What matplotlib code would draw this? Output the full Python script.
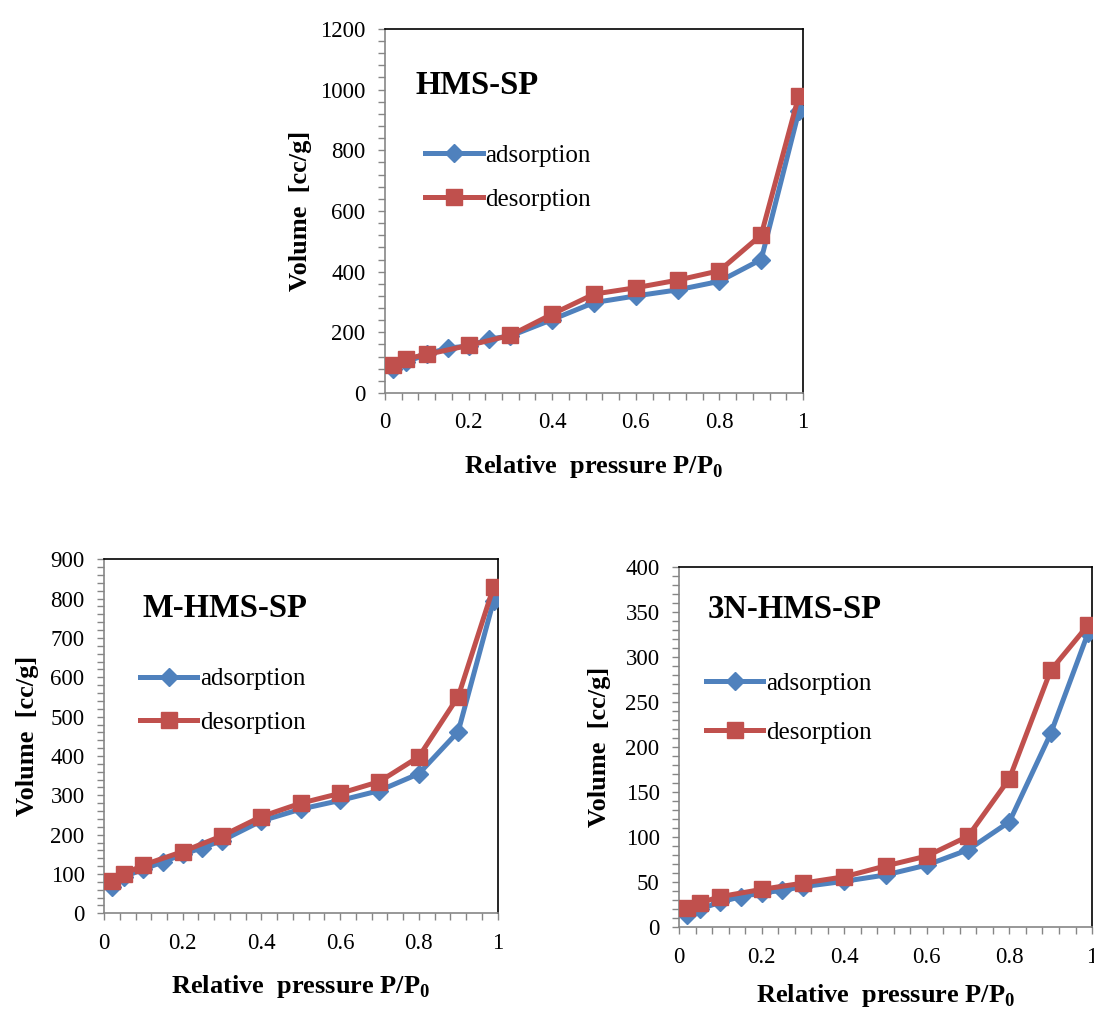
import matplotlib
matplotlib.use("Agg")
import matplotlib.pyplot as plt
from matplotlib.ticker import MultipleLocator, FuncFormatter

plt.rcParams["font.family"] = ["Liberation Serif", "DejaVu Serif"]
plt.rcParams["mathtext.fontset"] = "custom"
plt.rcParams["mathtext.rm"] = "Liberation Serif"
plt.rcParams["mathtext.bf"] = "Liberation Serif:bold"

# N2 isotherm points, relative pressure P/P0
ads_p = [0.02, 0.05, 0.1, 0.15, 0.2, 0.25, 0.3, 0.4, 0.5, 0.6, 0.7, 0.8, 0.9, 0.99]
des_p = [0.02, 0.05, 0.1, 0.2, 0.3, 0.4, 0.5, 0.6, 0.7, 0.8, 0.9, 0.99]

# HMS-SP volumes (cc/g)
hms_ads = [80, 102, 128, 148, 155, 178, 188, 242, 298, 320, 340, 368, 440, 928]
hms_des = [91, 113, 127, 157, 190, 260, 326, 347, 372, 403, 521, 980]

# M-HMS-SP volumes (cc/g)
mhms_ads = [68, 93, 112, 131, 150, 167, 185, 235, 265, 287, 312, 355, 462, 795]
mhms_des = [81, 99, 123, 157, 197, 246, 280, 305, 335, 398, 551, 830]

# 3N-HMS-SP volumes (cc/g)
n3_ads = [14, 20, 28, 34, 38, 41, 45, 51, 58, 69, 86, 117, 215, 326]
n3_des = [21, 27, 34, 42, 49, 56, 68, 79, 101, 165, 285, 335]

BLUE = "#4F81BD"
RED = "#C0504D"


def fmt_x(v, pos):
    return "%g" % round(v, 2)


def draw(ax, ads, des, name, ymax, ystep, title_xy, leg_xy,
         ylabelpad, xlabelpad=14, fs=16.5, legspace=0.85):
    ax.plot(ads_p, ads, color=BLUE, lw=3.6, marker="D", ms=9,
            label="adsorption", zorder=3)
    ax.plot(des_p, des, color=RED, lw=3.6, marker="s", ms=12,
            label="desorption", zorder=4)
    ax.set_xlim(0, 1)
    ax.set_ylim(0, ymax)
    ax.xaxis.set_major_locator(MultipleLocator(0.2))
    ax.xaxis.set_minor_locator(MultipleLocator(0.04))
    ax.xaxis.set_major_formatter(FuncFormatter(fmt_x))
    ax.yaxis.set_major_locator(MultipleLocator(ystep))
    ax.yaxis.set_minor_locator(MultipleLocator(ystep / 5))
    ax.tick_params(which="both", direction="out", length=5, width=1,
                   color="#868686", labelsize=fs, pad=9)
    for side in ("left", "bottom"):
        ax.spines[side].set_color("#868686")
        ax.spines[side].set_linewidth(1.2)
    for side in ("top", "right"):
        ax.spines[side].set_color("black")
        ax.spines[side].set_linewidth(1.2)
    ax.set_xlabel(r"Relative  pressure P/P$_\mathbf{0}$",
                  fontsize=19, fontweight="bold", labelpad=xlabelpad)
    ax.set_ylabel("Volume  [cc/g]", fontsize=19,
                  fontweight="bold", labelpad=ylabelpad)
    ax.text(title_xy[0], title_xy[1], name, transform=ax.transAxes,
            fontsize=23.5, fontweight="bold", va="center", ha="left")
    ax.legend(loc="center left", bbox_to_anchor=leg_xy, frameon=False,
              fontsize=18, handlelength=2.3, handletextpad=0.12,
              labelspacing=legspace, borderpad=0, borderaxespad=0)


fig = plt.figure(figsize=(10.94, 10.09), dpi=100)

ax1 = fig.add_axes([0.3519, 0.6105, 0.3821, 0.3608])
draw(ax1, hms_ads, hms_des, "HMS-SP", 1200, 200,
     (0.074, 0.846), (0.096, 0.592), 6)

ax2 = fig.add_axes([0.0951, 0.0948, 0.3597, 0.3509])
draw(ax2, mhms_ads, mhms_des, "M-HMS-SP", 900, 100,
     (0.099, 0.862), (0.091, 0.60), 8)

ax3 = fig.add_axes([0.6207, 0.0810, 0.3775, 0.3574])
draw(ax3, n3_ads, n3_des, "3N-HMS-SP", 400, 50,
     (0.07, 0.88), (0.065, 0.608), 10, xlabelpad=10, legspace=1.05)

fig.savefig("out.png", dpi=100)
